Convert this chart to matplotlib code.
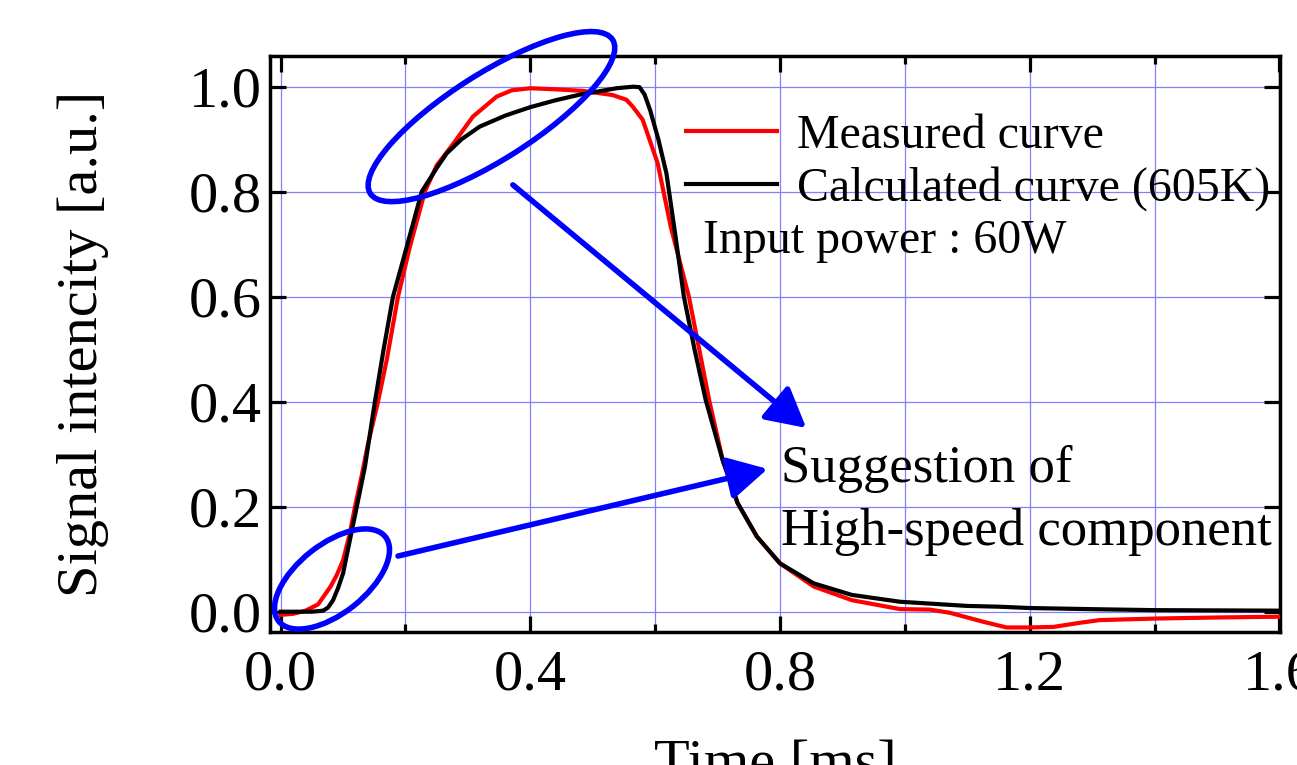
import matplotlib
matplotlib.use("Agg")
import matplotlib.pyplot as plt
from matplotlib.patches import Ellipse
from matplotlib.ticker import MultipleLocator
import matplotlib.transforms as mtransforms

plt.rcParams['font.family'] = ['Liberation Serif', 'DejaVu Serif']

# measured signal (red)
t_meas = [0.00, 0.02, 0.04, 0.06, 0.08, 0.09, 0.10, 0.11, 0.12, 0.13, 0.14,
          0.156, 0.17, 0.188, 0.207, 0.231, 0.25, 0.277, 0.308, 0.346, 0.37,
          0.40, 0.44, 0.484, 0.532, 0.554, 0.564, 0.58, 0.604, 0.625, 0.654,
          0.687, 0.708, 0.732, 0.763, 0.80, 0.854, 0.915, 0.992, 1.04, 1.072,
          1.125, 1.163, 1.197, 1.238, 1.281, 1.312, 1.403, 1.50, 1.60]
y_meas = [-0.006, -0.004, 0.002, 0.014, 0.048, 0.07, 0.098, 0.145, 0.205, 0.26,
          0.32, 0.40, 0.48, 0.60, 0.695, 0.80, 0.85, 0.892, 0.943, 0.981, 0.993,
          0.997, 0.995, 0.992, 0.984, 0.975, 0.962, 0.937, 0.854, 0.733, 0.60,
          0.40, 0.29, 0.207, 0.143, 0.092, 0.048, 0.022, 0.005, 0.004, -0.002,
          -0.019, -0.030, -0.030, -0.029, -0.021, -0.016, -0.013, -0.011, -0.0095]

# calculated curve (black, 605K)
t_calc = [0.00, 0.05, 0.068, 0.076, 0.084, 0.092, 0.10, 0.111, 0.122, 0.135,
          0.151, 0.165, 0.18, 0.202, 0.226, 0.25, 0.266, 0.29, 0.319, 0.36,
          0.40, 0.44, 0.48, 0.538, 0.565, 0.575, 0.583, 0.592, 0.605, 0.618,
          0.632, 0.646, 0.663, 0.681, 0.708, 0.732, 0.763, 0.80, 0.854, 0.915,
          0.992, 1.10, 1.152, 1.20, 1.312, 1.40, 1.60]
y_calc = [0.0, 0.0, 0.002, 0.008, 0.022, 0.045, 0.073, 0.137, 0.20, 0.276,
          0.40, 0.50, 0.60, 0.695, 0.80, 0.845, 0.873, 0.90, 0.924, 0.945,
          0.961, 0.974, 0.985, 0.997, 1.0, 0.999, 0.985, 0.955, 0.90, 0.835,
          0.72, 0.60, 0.50, 0.403, 0.289, 0.207, 0.143, 0.092, 0.054, 0.032,
          0.019, 0.011, 0.0095, 0.007, 0.0046, 0.003, 0.002]

BLUE = '#0000ff'
GRID = '#8080ff'

fig = plt.figure(figsize=(12.97, 7.65), dpi=100)
ax = fig.add_axes([0.2082, 0.1743, 0.7787, 0.7529])

ax.plot(t_meas, y_meas, color='#ff0000', lw=3.0, label='Measured curve', zorder=3)
ax.plot(t_calc, y_calc, color='black', lw=3.0, label='Calculated curve (605K)', zorder=4)

ax.set_xlim(-0.017, 1.601)
ax.set_ylim(-0.038, 1.059)
ax.xaxis.set_major_locator(MultipleLocator(0.4))
ax.xaxis.set_minor_locator(MultipleLocator(0.2))
ax.yaxis.set_major_locator(MultipleLocator(0.2))
ax.xaxis.set_major_formatter(matplotlib.ticker.FormatStrFormatter('%.1f'))
ax.yaxis.set_major_formatter(matplotlib.ticker.FormatStrFormatter('%.1f'))

ax.grid(True, which='both', axis='x', color=GRID, lw=0.9, zorder=0)
ax.grid(True, which='major', axis='y', color=GRID, lw=0.9, zorder=0)
ax.set_axisbelow(True)

ax.tick_params(which='both', direction='in', top=True, right=True, width=2.3,
               labelsize=42)
ax.tick_params(which='major', length=11.5)
ax.tick_params(which='minor', length=5.5)
ax.tick_params(axis='x', pad=13)
ax.tick_params(axis='y', pad=6)
for s in ax.spines.values():
    s.set_linewidth(2.5)

# the reference crops the x label at the bottom edge
ax.set_xlabel('Time [ms]', fontsize=42, labelpad=27)
ax.set_ylabel('Signal intencity [a.u.]', fontsize=42, labelpad=57)

leg = ax.legend(loc='upper left', bbox_to_anchor=(0.412, 0.899), frameon=False,
                fontsize=34.5, handlelength=1.9, handletextpad=0.42,
                labelspacing=0.17, borderpad=0, borderaxespad=0)

ax.text(0.676, 0.683, 'Input power : 60W', fontsize=34.5, va='baseline', ha='left')
ax.text(0.802, 0.2476, 'Suggestion of', fontsize=38, va='baseline', ha='left')
ax.text(0.802, 0.127, 'High-speed component', fontsize=38, va='baseline', ha='left')

# hand-drawn style highlights (sizes in inches, centres in data units)
for (xc, yc), w, h, ang in [((0.3377, 0.943), 2.87, 0.86, 32.4),
                            ((0.0823, 0.0623), 1.36, 0.69, 38.3)]:
    tr = fig.dpi_scale_trans + mtransforms.ScaledTranslation(xc, yc, ax.transData)
    e = Ellipse((0, 0), w, h, angle=ang, transform=tr, fill=False,
                edgecolor=BLUE, lw=4, clip_on=False, zorder=6)
    ax.add_patch(e)

arrow_kw = dict(arrowstyle='-|>,head_length=2.4,head_width=1.3', color=BLUE,
                lw=4, shrinkA=0, shrinkB=0, mutation_scale=10)
ax.annotate('', xy=(0.842, 0.350), xytext=(0.372, 0.813), arrowprops=arrow_kw,
            zorder=6, annotation_clip=False)
ax.annotate('', xy=(0.780, 0.272), xytext=(0.188, 0.106), arrowprops=arrow_kw,
            zorder=6, annotation_clip=False)

fig.savefig('out.png', dpi=100)
